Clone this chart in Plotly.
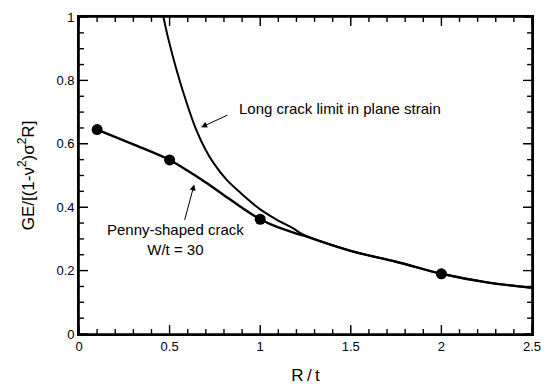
import plotly.graph_objects as go

# Penny-shaped crack, W/t = 30 (curve)
penny_x = [0.1, 0.3, 0.5, 0.6, 0.7, 0.8, 0.9, 1.0, 1.1, 1.24, 1.5, 1.75, 2.0, 2.25, 2.5]
penny_y = [0.645, 0.598, 0.549, 0.515, 0.478, 0.438, 0.398, 0.362, 0.336, 0.31, 0.262, 0.228, 0.19, 0.163, 0.146]

# Computed points (markers)
pts_x = [0.1, 0.5, 1.0, 2.0]
pts_y = [0.645, 0.549, 0.362, 0.19]

# Long crack limit in plane strain
long_x = [0.466, 0.493, 0.542, 0.597, 0.645, 0.694, 0.743, 0.814, 0.906, 0.998, 1.09, 1.182, 1.236, 1.5, 1.75, 2.0, 2.25, 2.5]
long_y = [1.0, 0.931, 0.826, 0.724, 0.647, 0.586, 0.539, 0.487, 0.438, 0.394, 0.361, 0.333, 0.314, 0.262, 0.228, 0.19, 0.163, 0.146]

# Tick positions
x_ticks = [0, 0.5, 1, 1.5, 2, 2.5]
y_ticks = [0, 0.2, 0.4, 0.6, 0.8, 1]
x_minor = [0.1, 0.2, 0.3, 0.4, 0.6, 0.7, 0.8, 0.9, 1.1, 1.2, 1.3, 1.4,
           1.6, 1.7, 1.8, 1.9, 2.1, 2.2, 2.3, 2.4]
y_minor = [0.05, 0.1, 0.15, 0.25, 0.3, 0.35, 0.45, 0.5, 0.55, 0.65, 0.7, 0.75, 0.85, 0.9, 0.95]

FONT = "Liberation Sans, Arial, Helvetica, sans-serif"
W, H = 551, 392
ML, MR, MT, MB = 79, 11, 10, 57
X_RANGE, Y_RANGE = [0, 2.5], [0, 1]
MAJOR_LEN, MINOR_LEN = 9, 5  # pixels

# pixel -> data-unit conversion for tick lengths
px_x = (X_RANGE[1] - X_RANGE[0]) / (W - ML - MR)
px_y = (Y_RANGE[1] - Y_RANGE[0]) / (H - MT - MB)

fig = go.Figure()
fig.add_trace(go.Scatter(x=long_x, y=long_y, mode="lines",
                         line=dict(color="black", width=2, shape="spline", smoothing=1),
                         showlegend=False, hoverinfo="skip"))
fig.add_trace(go.Scatter(x=penny_x, y=penny_y, mode="lines",
                         line=dict(color="black", width=2.4, shape="spline", smoothing=1),
                         showlegend=False, hoverinfo="skip"))
fig.add_trace(go.Scatter(x=pts_x, y=pts_y, mode="markers",
                         marker=dict(color="black", size=11),
                         showlegend=False, cliponaxis=False))

# inside ticks on all four sides, one path of segments drawn through the axes
tx, ty = [], []
for vals, length in ((x_ticks, MAJOR_LEN), (x_minor, MINOR_LEN)):
    d = length * px_y
    for v in vals:
        tx += [v, v, None, v, v, None]
        ty += [Y_RANGE[0], Y_RANGE[0] + d, None, Y_RANGE[1], Y_RANGE[1] - d, None]
for vals, length in ((y_ticks, MAJOR_LEN), (y_minor, MINOR_LEN)):
    d = length * px_x
    for v in vals:
        tx += [X_RANGE[0], X_RANGE[0] + d, None, X_RANGE[1], X_RANGE[1] - d, None]
        ty += [v, v, None, v, v, None]
fig.add_trace(go.Scatter(x=tx, y=ty, mode="lines", line=dict(color="black", width=1.4),
                         showlegend=False, hoverinfo="skip", connectgaps=False))

axis_common = dict(
    showline=True, linecolor="black", linewidth=1.6, mirror="ticks",
    ticks="inside", ticklen=MAJOR_LEN, tickwidth=1.4, tickcolor="black",
    showgrid=False, zeroline=False,
    tickfont=dict(family=FONT, size=13, color="black"),
)

fig.update_layout(
    xaxis=dict(range=X_RANGE, tickmode="array", tickvals=x_ticks,
               title=dict(text="R\u2009/\u2009t", font=dict(family=FONT, size=17, color="black"), standoff=16),
               **axis_common),
    yaxis=dict(range=Y_RANGE, tickmode="array", tickvals=y_ticks,
               title=dict(text="GE/[(1-\u03bd<sup>2</sup>)\u03c3<sup>2</sup>R]",
                          font=dict(family=FONT, size=17, color="black"), standoff=18),
               **axis_common),
)

# plot frame
fig.add_shape(type="rect", xref="x domain", yref="y domain", x0=0, x1=1, y0=0, y1=1,
              line=dict(color="black", width=1.6), fillcolor="rgba(0,0,0,0)", layer="above")

ann_font = dict(family=FONT, size=15, color="black")
fig.add_annotation(x=0.873, y=0.71, xref="x", yref="y", text="Long crack limit in plane strain",
                   showarrow=False, xanchor="left", yanchor="middle", font=ann_font)
fig.add_annotation(x=0.674, y=0.652, xref="x", yref="y", text="", showarrow=True,
                   ax=28, ay=-13, arrowhead=2, arrowsize=1.2, arrowwidth=1, arrowcolor="black")
fig.add_annotation(x=0.531, y=0.299, xref="x", yref="y", text="Penny-shaped crack<br>W/t = 30",
                   showarrow=False, xanchor="center", yanchor="middle", font=ann_font)
fig.add_annotation(x=0.636, y=0.472, xref="x", yref="y", text="", showarrow=True,
                   ax=-10, ay=37, arrowhead=2, arrowsize=1.2, arrowwidth=1, arrowcolor="black")

fig.update_layout(
    width=W, height=H,
    margin=dict(l=ML, r=MR, t=MT, b=MB),
    paper_bgcolor="white", plot_bgcolor="white",
    font=dict(family=FONT, color="black"),
)

fig.write_html("out.html")
